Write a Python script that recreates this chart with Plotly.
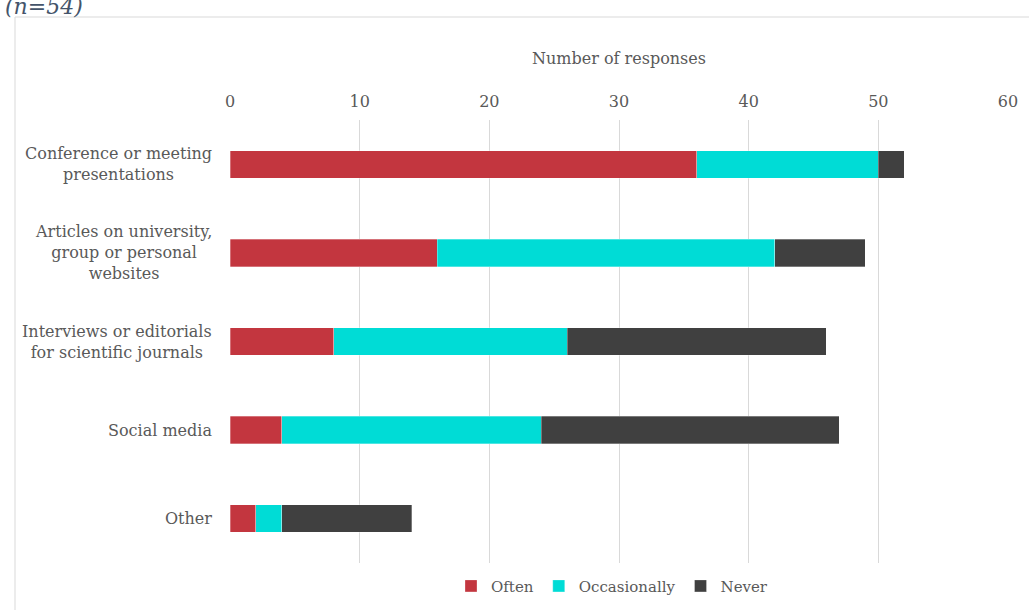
import plotly.graph_objects as go

categories = ["Conference or meeting<br>presentations",
              "Articles on university,<br>group or personal<br>websites",
              "Interviews or editorials<br>for scientific journals",
              "Social media",
              "Other"]
often = [36, 16, 8, 4, 2]
occasionally = [14, 26, 18, 20, 2]
never = [2, 7, 20, 23, 10]
series_names = ["Often", "Occasionally", "Never"]
colors = ["#C3363F", "#00DCD6", "#404040"]
x_ticks = [0, 10, 20, 30, 40, 50, 60]

FONT = "Georgia, DejaVu Serif, serif"
W, H = 1029, 610
L, R, T, B = 230, 21, 120, 47
pw, ph = W - L - R, H - T - B

fig = go.Figure()
for name, vals, col in zip(series_names, [often, occasionally, never], colors):
    fig.add_trace(go.Bar(
        y=categories, x=vals, name=name, orientation="h",
        marker=dict(color=col, line=dict(color="rgba(255,255,255,0.6)", width=0.5)),
    ))

for c in categories:
    fig.add_annotation(text=c, xref="paper", yref="y", x=-0.02, y=c,
                       xanchor="right", yanchor="middle", align="center",
                       showarrow=False, font=dict(family=FONT, size=16, color="#595959"))

# chart border
fig.add_shape(type="rect", xref="paper", yref="paper",
              x0=(15 - L) / pw, x1=1.2, y0=-0.3, y1=(H - B - 17) / ph,
              line=dict(color="#d9d9d9", width=1), fillcolor="rgba(0,0,0,0)", layer="below")

fig.add_annotation(text="<i>(n=54)</i>", xref="paper", yref="paper",
                   x=(3 - L) / pw, y=(H - B - 21) / ph, xanchor="left", yanchor="bottom",
                   showarrow=False, font=dict(family=FONT, size=22, color="#44546A"))

fig.update_layout(
    width=W, height=H,
    margin=dict(l=L, r=R, t=T, b=B, autoexpand=False),
    barmode="stack", bargap=0.69,
    plot_bgcolor="white", paper_bgcolor="white",
    font=dict(family=FONT, size=16, color="#595959"),
    xaxis=dict(side="top", range=[0, 60], tickvals=x_ticks, showgrid=True,
               gridcolor="#d9d9d9", gridwidth=1, zeroline=False, showline=False,
               ticks="", automargin=False, ticklabelstandoff=9,
               tickfont=dict(size=16, color="#595959"),
               title=dict(text="Number of responses", font=dict(size=16, color="#595959"), standoff=23)),
    yaxis=dict(autorange="reversed", showticklabels=False, showgrid=False, zeroline=False,
               ticks="", automargin=False),
    legend=dict(orientation="h", x=(612 - L) / pw, xanchor="center", y=-0.015, yanchor="top",
                font=dict(family=FONT, size=15, color="#595959"), traceorder="normal",
                itemwidth=30, entrywidth=0, tracegroupgap=0),
    showlegend=True,
)

fig.write_html("out.html", config={"displayModeBar": False},
               post_script="document.body.style.margin='0';document.body.style.overflow='hidden';")
